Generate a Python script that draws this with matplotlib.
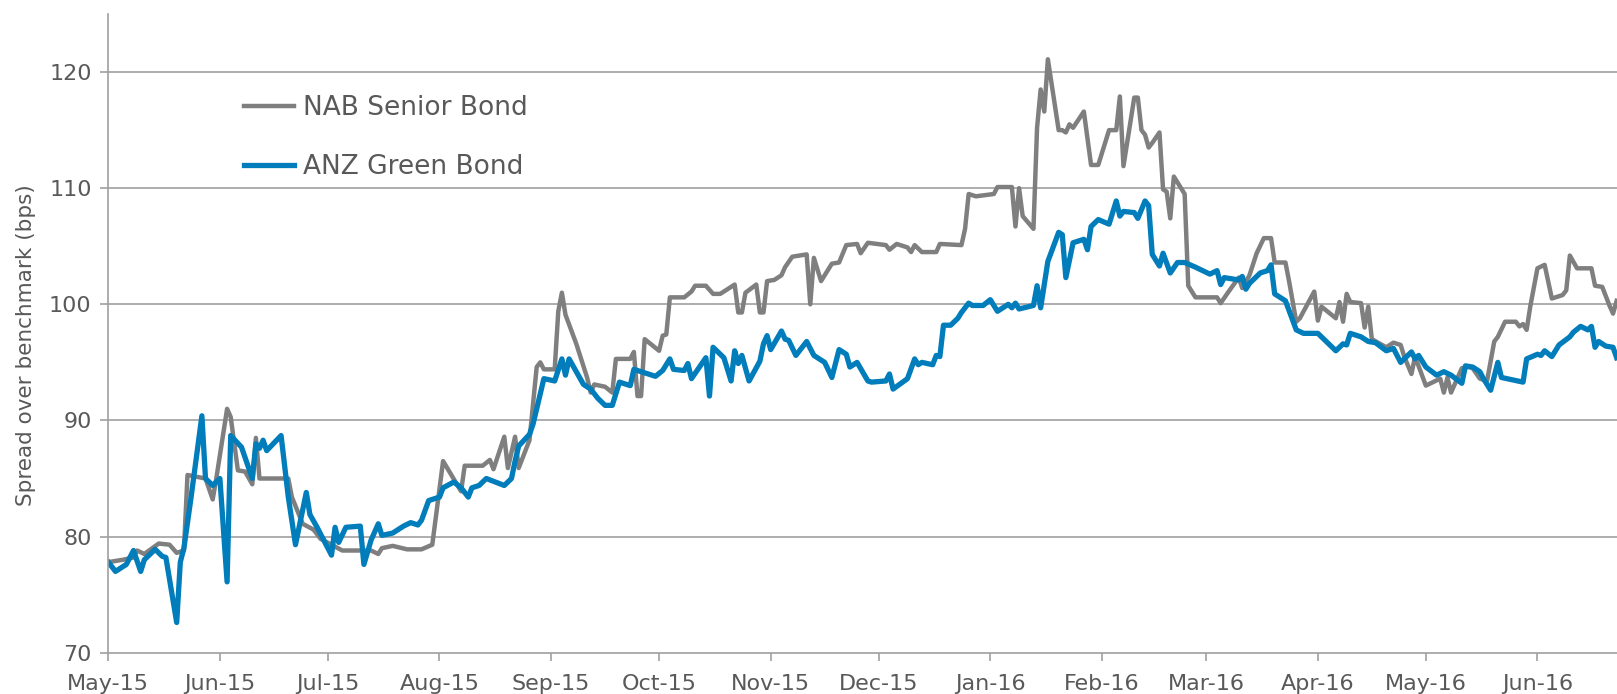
import numpy as np
import pandas as pd
import matplotlib
matplotlib.use("Agg")
import matplotlib.pyplot as plt
import matplotlib.dates as mdates

# days since 1 May 2015 and spread (bps)
start = pd.Timestamp("2015-05-01")

nab_days = [0, 4, 7, 8, 10, 14, 17, 19, 21, 22, 27, 29, 30, 33, 34, 36, 38, 40, 41, 42,
            50, 51, 54, 57, 59, 62, 65, 73, 75, 76, 79, 83, 87, 90, 93, 98, 99, 104, 106, 107,
            110, 111, 113, 114, 117, 119, 120, 121, 124, 125, 126, 127, 130, 133, 134, 135, 138, 140, 141, 145,
            146, 147, 148, 149, 153, 154, 155, 156, 160, 162, 163, 166, 168, 170, 174, 175, 176, 177, 180, 181,
            182, 183, 185, 187, 188, 190, 194, 195, 196, 198, 201, 203, 205, 208, 209, 211, 216, 217, 219, 222,
            223, 224, 226, 230, 231, 237, 238, 239, 241, 246, 247, 251, 252, 253, 254, 257, 258, 259, 260, 261,
            264, 265, 266, 267, 268, 271, 273, 275, 278, 280, 281, 282, 285, 286, 287, 288, 289, 290, 292, 293,
            294, 295, 296, 299, 300, 301, 302, 308, 309, 311, 314, 315, 317, 319, 321, 323, 324, 327, 328, 330,
            331, 335, 336, 337, 341, 342, 343, 344, 345, 348, 349, 350, 351, 355, 357, 359, 360, 362, 363, 366,
            370, 371, 372, 373, 376, 378, 379, 381, 383, 385, 386, 388, 391, 392, 393, 394, 395, 397, 399, 401,
            404, 405, 406, 408, 412, 413, 415, 417, 418, 419]
nab_bps = [77.8, 78.0, 78.2, 78.8, 78.5, 79.4, 79.3, 78.6, 78.8, 85.3, 85.0, 83.2, 85.0, 91.0, 90.3, 85.7, 85.6, 84.5, 88.5, 85.0,
           85.0, 83.4, 81.1, 80.6, 79.8, 79.3, 78.8, 78.8, 78.5, 79.0, 79.2, 78.9, 78.9, 79.3, 86.5, 83.9, 86.1, 86.1, 86.6, 85.8,
           88.6, 85.9, 88.6, 85.9, 88.3, 94.6, 95.0, 94.4, 94.4, 99.4, 101.0, 99.1, 96.6, 93.7, 92.4, 93.1, 92.9, 92.4, 95.3, 95.3,
           95.9, 92.1, 92.1, 97.0, 96.0, 97.3, 97.4, 100.6, 100.6, 101.1, 101.6, 101.6, 100.9, 100.9, 101.7, 99.3, 99.3, 101.0, 101.7, 99.3,
           99.3, 102.0, 102.1, 102.5, 103.2, 104.1, 104.3, 100.0, 104.0, 102.0, 103.5, 103.6, 105.1, 105.2, 104.4, 105.3, 105.1, 104.7, 105.2, 104.9,
           104.5, 105.1, 104.5, 104.5, 105.2, 105.1, 106.5, 109.5, 109.3, 109.5, 110.1, 110.1, 106.7, 110.0, 107.6, 106.5, 115.2, 118.5, 116.6, 121.1,
           115.0, 115.0, 114.8, 115.5, 115.2, 116.6, 112.0, 112.0, 115.0, 115.0, 117.9, 111.9, 117.8, 117.8, 115.0, 114.6, 113.5, 113.9, 114.8, 109.9,
           109.7, 107.4, 111.0, 109.5, 101.6, 101.1, 100.6, 100.6, 100.1, 101.0, 102.3, 101.4, 102.5, 104.4, 105.7, 105.7, 103.6, 103.6, 102.0, 98.5,
           98.8, 101.1, 98.6, 99.8, 98.8, 100.2, 98.5, 100.9, 100.2, 100.1, 98.0, 99.8, 97.0, 96.3, 96.7, 96.5, 95.5, 94.0, 95.5, 93.0,
           93.6, 92.4, 93.7, 92.4, 94.5, 94.6, 94.5, 93.6, 93.4, 96.8, 97.2, 98.5, 98.5, 98.1, 98.3, 97.8, 99.8, 103.1, 103.4, 100.5,
           100.8, 101.2, 104.2, 103.1, 103.1, 101.6, 101.5, 99.9, 99.2, 100.3]

anz_days = [0, 2, 5, 7, 9, 10, 13, 15, 16, 19, 20, 21, 23, 26, 27, 29, 31, 33, 34, 37,
            40, 41, 42, 43, 44, 48, 50, 52, 55, 56, 58, 62, 63, 64, 66, 70, 71, 73, 75, 76,
            79, 82, 84, 86, 87, 89, 92, 93, 96, 98, 100, 101, 103, 105, 110, 112, 113, 114, 117, 118,
            119, 121, 124, 126, 127, 128, 132, 134, 136, 138, 140, 142, 145, 146, 152, 154, 156, 157, 160, 161,
            162, 166, 167, 168, 171, 173, 174, 175, 176, 178, 181, 182, 183, 184, 187, 188, 189, 191, 194, 196,
            198, 199, 201, 203, 205, 206, 208, 211, 212, 216, 217, 218, 222, 224, 225, 226, 229, 230, 231, 232,
            234, 236, 237, 239, 240, 243, 245, 247, 250, 251, 252, 253, 257, 258, 259, 261, 264, 265, 266, 268,
            271, 272, 273, 275, 278, 280, 281, 282, 285, 286, 288, 289, 290, 292, 293, 295, 297, 299, 302, 306,
            308, 309, 310, 314, 315, 316, 317, 320, 322, 323, 324, 327, 330, 332, 336, 338, 341, 343, 344, 345,
            348, 350, 352, 355, 357, 359, 362, 363, 364, 366, 369, 371, 373, 376, 377, 379, 381, 382, 384, 386,
            387, 390, 393, 394, 397, 398, 399, 401, 403, 406, 407, 409, 411, 412, 413, 414, 416, 418, 419]
anz_bps = [77.8, 77.0, 77.6, 78.8, 77.0, 78.0, 78.9, 78.3, 78.2, 72.6, 77.8, 79.0, 83.4, 90.4, 85.0, 84.4, 85.0, 76.1, 88.7, 87.7,
           85.0, 88.0, 87.6, 88.3, 87.4, 88.7, 83.4, 79.3, 83.8, 81.9, 80.8, 78.4, 80.8, 79.5, 80.8, 80.9, 77.6, 79.7, 81.1, 80.1,
           80.3, 80.9, 81.2, 81.0, 81.4, 83.1, 83.4, 84.2, 84.7, 84.2, 83.4, 84.2, 84.4, 85.0, 84.4, 85.0, 86.5, 87.8, 88.8, 89.7,
           91.0, 93.6, 93.4, 95.3, 93.9, 95.3, 93.1, 92.7, 91.9, 91.3, 91.3, 93.3, 93.0, 94.4, 93.8, 94.3, 95.3, 94.4, 94.3, 94.9,
           93.6, 95.4, 92.1, 96.3, 95.4, 93.4, 96.0, 94.9, 95.6, 93.4, 95.1, 96.6, 97.3, 96.1, 97.7, 97.0, 96.9, 95.6, 96.8, 95.6,
           95.2, 95.0, 93.7, 96.1, 95.7, 94.6, 95.0, 93.4, 93.3, 93.4, 94.0, 92.7, 93.6, 95.3, 94.8, 95.0, 94.8, 95.6, 95.5, 98.2,
           98.2, 98.8, 99.3, 100.1, 99.9, 99.9, 100.4, 99.4, 100.0, 99.7, 100.1, 99.6, 99.9, 101.6, 99.7, 103.7, 106.2, 106.0, 102.3, 105.3,
           105.6, 104.7, 106.7, 107.3, 106.9, 108.9, 107.6, 108.0, 107.9, 107.4, 108.9, 108.5, 104.3, 103.3, 104.4, 102.7, 103.6, 103.6, 103.2, 102.6,
           102.9, 101.7, 102.3, 102.1, 102.4, 101.3, 101.8, 102.7, 102.9, 103.4, 100.9, 100.3, 97.8, 97.5, 97.5, 96.9, 96.0, 96.6, 96.5, 97.5,
           97.2, 96.8, 96.7, 96.0, 96.2, 95.0, 95.9, 95.3, 95.6, 94.6, 93.9, 94.2, 93.9, 93.2, 94.7, 94.6, 94.2, 93.6, 92.6, 95.0,
           93.7, 93.5, 93.3, 95.3, 95.7, 95.6, 96.0, 95.5, 96.5, 97.2, 97.6, 98.1, 97.8, 98.1, 96.3, 96.8, 96.4, 96.3, 95.4]

yticks = [70, 80, 90, 100, 110, 120]

text_col = "#595959"
axis_col = "#a0a0a0"

nab_dates = start + pd.to_timedelta(nab_days, unit="D")
anz_dates = start + pd.to_timedelta(anz_days, unit="D")

fig = plt.figure(figsize=(16.17, 6.94), dpi=100)
ax = fig.add_axes([108.3 / 1617, 1 - 652.7 / 694, 1 - 108.3 / 1617, (652.7 - 14) / 694])

ax.plot(nab_dates, nab_bps, color="#7f7f7f", lw=3.2, solid_joinstyle="round",
        label="NAB Senior Bond")
ax.plot(anz_dates, anz_bps, color="#007dba", lw=3.8, solid_joinstyle="round",
        label="ANZ Green Bond")

ax.set_ylim(70, 125)
ax.set_yticks(yticks)
ax.set_xlim(start, start + pd.Timedelta(days=419.1))
ax.xaxis.set_major_locator(mdates.MonthLocator())
ax.xaxis.set_major_formatter(mdates.DateFormatter("%b-%y"))

for v in yticks[1:]:
    ax.axhline(v, color=axis_col, lw=1.2, zorder=0)

for s in ["top", "right"]:
    ax.spines[s].set_visible(False)
for s in ["left", "bottom"]:
    ax.spines[s].set_color(axis_col)
    ax.spines[s].set_linewidth(1.2)

ax.tick_params(axis="both", direction="out", length=6, width=1.2, color=axis_col,
               labelcolor=text_col, labelsize=16)
ax.tick_params(axis="x", pad=9)
ax.tick_params(axis="y", pad=6)

fig.text(26 / 1617, 1 - 345 / 694, "Spread over benchmark (bps)", rotation=90,
         ha="center", va="center", fontsize=15.5, color=text_col)

ax.legend(loc="upper left", bbox_to_anchor=(244 / 1617, 1 - 95 / 694),
          bbox_transform=fig.transFigure, frameon=False, fontsize=19,
          labelcolor=text_col, handlelength=1.9, handletextpad=0.35,
          labelspacing=1.25, borderpad=0, borderaxespad=0)

fig.savefig("out.png", dpi=100)
